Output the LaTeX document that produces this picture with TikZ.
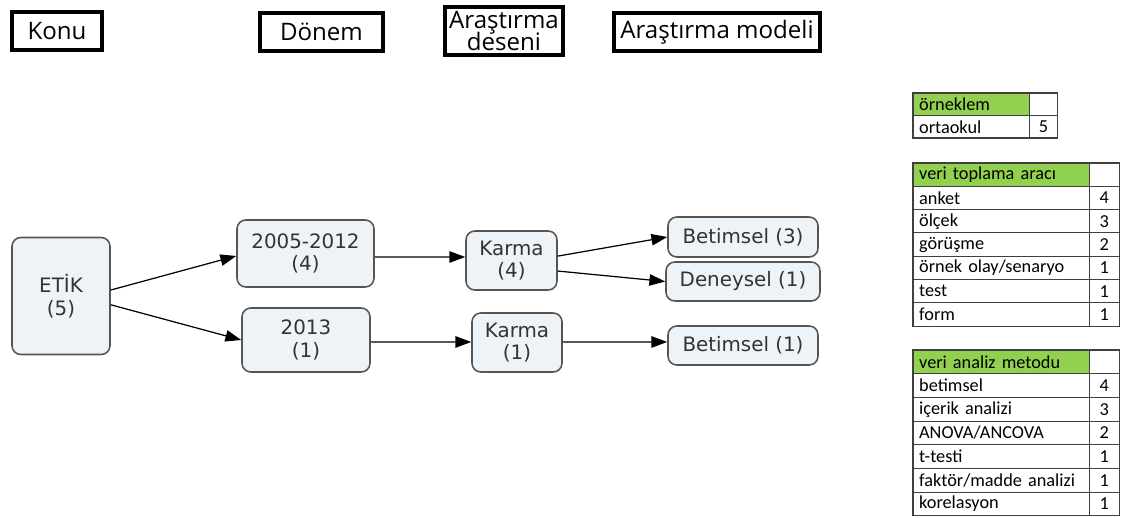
\documentclass[tikz,border=0pt]{standalone}
\usepackage{fontspec}
\setmainfont{DejaVu Sans}
\newfontfamily\tabfont{Carlito}
\newfontfamily\hdrfont{Open Sans}
\usetikzlibrary{arrows.meta}
\definecolor{boxfill}{HTML}{EEF3F7}
\definecolor{boxline}{HTML}{555555}
\definecolor{hgreen}{HTML}{92D050}
\tikzset{
  hdr/.style={draw, line width=2.2pt, inner sep=0pt, align=center,
    font=\hdrfont\fontsize{13.7}{15}\selectfont},
  box/.style={draw=boxline, line width=0.9pt, fill=boxfill, rounded corners=5pt,
    inner sep=0pt, align=center, text=black!80, font=\fontsize{11.3}{13}\selectfont},
  link/.style={-{Triangle[length=9pt,width=6.5pt]}, line width=0.7pt},
  lab/.style={draw=black!75, line width=0.6pt, anchor=north west, outer sep=0pt,
    inner xsep=3.5pt, inner ysep=0pt, text width=#1,
    font=\tabfont\fontsize{10.4}{12}\selectfont},
  num/.style={draw=black!75, line width=0.6pt, anchor=north west, outer sep=0pt,
    inner sep=0pt, minimum width=#1, font=\tabfont\fontsize{10.4}{12}\selectfont},
}
\begin{document}
\begin{tikzpicture}[x=0.02cm, y=-0.02cm]
\useasboundingbox (0,0) rectangle (1125,517);

% headers
\node[hdr, minimum width=1.80cm, minimum height=0.76cm] (konu) at (57,31) {Konu};
\node[hdr, minimum width=2.46cm, minimum height=0.76cm] (donem) at (321.5,32) {Dönem};
\node[hdr, minimum width=2.36cm, minimum height=0.96cm] (desen) at (504,31) {Araştırma\\[-2pt]deseni};
\node[hdr, minimum width=4.12cm, minimum height=0.76cm] (model) at (717,32) {Araştırma modeli};

% boxes
\node[box, minimum width=1.96cm, minimum height=2.34cm] (etik) at (61,296) {ETİK\\(5)};
\node[box, minimum width=2.74cm, minimum height=1.34cm] (p1) at (305.5,253.5) {2005-2012\\(4)};
\node[box, minimum width=2.56cm, minimum height=1.28cm] (p2) at (306,340) {2013\\(1)};
\node[box, minimum width=1.82cm, minimum height=1.18cm] (k1) at (511.5,260.5) {Karma\\(4)};
\node[box, minimum width=1.80cm, minimum height=1.18cm] (k2) at (517,342.5) {Karma\\(1)};
\node[box, minimum width=3.00cm, minimum height=0.80cm] (b1) at (743,237) {Betimsel (3)};
\node[box, minimum width=3.08cm, minimum height=0.78cm] (d1) at (743,281.5) {Deneysel (1)};
\node[box, minimum width=3.00cm, minimum height=0.78cm] (b2) at (743,345.5) {Betimsel (1)};

% arrows
\draw[link] ([yshift=3.4pt]etik.east) -- ([yshift=-1.4pt]p1.west);
\draw[link] ([yshift=-5pt]etik.east) -- (p2.west);
\draw[link] ([yshift=-2pt]p1.east) -- ([yshift=2pt]k1.west);
\draw[link] ([yshift=-1.1pt]p2.east) -- ([yshift=0.3pt]k2.west);
\draw[link] ([yshift=2.5pt]k1.east) -- (b1.west);
\draw[link] ([yshift=-6pt]k1.east) -- (d1.west);
\draw[link] ([yshift=0.3pt]k2.east) -- ([yshift=2pt]b2.west);

% table: örneklem
\begin{scope}[every node/.style={minimum height=0.45cm}]
\node[lab=59.3pt, fill=hgreen] (t1h) at (913,93) {örneklem};
\node[num=0.56cm] (t1hv) at (t1h.north east) {};
\node[lab=59.3pt] (t1a) at (t1h.south west) {ortaokul};
\node[num=0.56cm] (t1av) at (t1a.north east) {5};
\end{scope}

% table: veri toplama aracı
\begin{scope}[every node/.style={minimum height=0.466cm}]
\node[lab=93.3pt, fill=hgreen] (t2h) at (913,163) {veri toplama aracı};
\node[num=0.6cm] (t2hv) at (t2h.north east) {};
\node[lab=93.3pt] (t2a) at (t2h.south west) {anket};
\node[num=0.6cm] (t2av) at (t2a.north east) {4};
\node[lab=93.3pt] (t2b) at (t2a.south west) {ölçek};
\node[num=0.6cm] (t2bv) at (t2b.north east) {3};
\node[lab=93.3pt] (t2c) at (t2b.south west) {görüşme};
\node[num=0.6cm] (t2cv) at (t2c.north east) {2};
\node[lab=93.3pt] (t2d) at (t2c.south west) {örnek olay/senaryo};
\node[num=0.6cm] (t2dv) at (t2d.north east) {1};
\node[lab=93.3pt] (t2e) at (t2d.south west) {test};
\node[num=0.6cm] (t2ev) at (t2e.north east) {1};
\node[lab=93.3pt] (t2f) at (t2e.south west) {form};
\node[num=0.6cm] (t2fv) at (t2f.north east) {1};
\end{scope}

% table: veri analiz metodu
\begin{scope}[every node/.style={minimum height=0.474cm}]
\node[lab=93.3pt, fill=hgreen] (t3h) at (913,350) {veri analiz metodu};
\node[num=0.6cm] (t3hv) at (t3h.north east) {};
\node[lab=93.3pt] (t3a) at (t3h.south west) {betimsel};
\node[num=0.6cm] (t3av) at (t3a.north east) {4};
\node[lab=93.3pt] (t3b) at (t3a.south west) {içerik analizi};
\node[num=0.6cm] (t3bv) at (t3b.north east) {3};
\node[lab=93.3pt] (t3c) at (t3b.south west) {ANOVA/ANCOVA};
\node[num=0.6cm] (t3cv) at (t3c.north east) {2};
\node[lab=93.3pt] (t3d) at (t3c.south west) {t-testi};
\node[num=0.6cm] (t3dv) at (t3d.north east) {1};
\node[lab=93.3pt] (t3e) at (t3d.south west) {faktör/madde analizi};
\node[num=0.6cm] (t3ev) at (t3e.north east) {1};
\node[lab=93.3pt] (t3f) at (t3e.south west) {korelasyon};
\node[num=0.6cm] (t3fv) at (t3f.north east) {1};
\end{scope}
\end{tikzpicture}
\end{document}
